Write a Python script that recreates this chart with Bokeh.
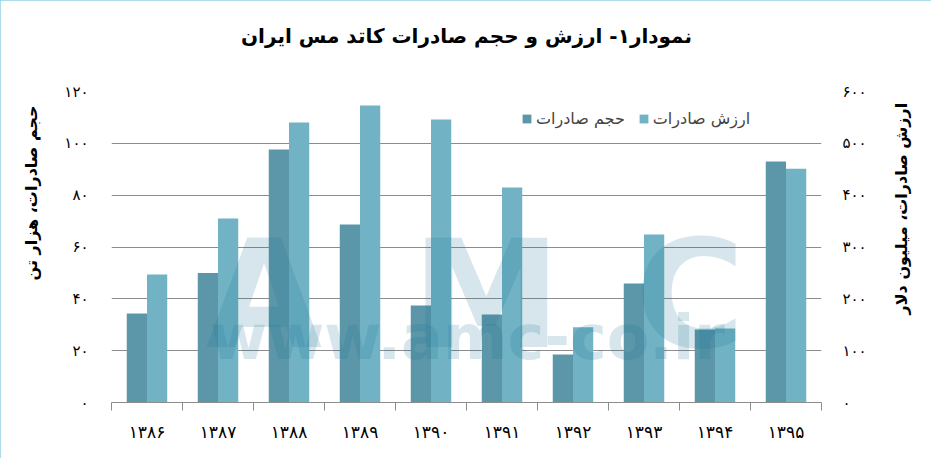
import math
from bokeh.plotting import figure
from bokeh.models import Range1d, LinearAxis, FixedTicker, Label, Legend, LegendItem, Title
from bokeh.embed import file_html
from bokeh.resources import INLINE

# ---- data ----
years = ["۱۳۸۶", "۱۳۸۷", "۱۳۸۸", "۱۳۸۹", "۱۳۹۰", "۱۳۹۱", "۱۳۹۲", "۱۳۹۳", "۱۳۹۴", "۱۳۹۵"]
export_volume = [34.3, 50.0, 97.6, 68.7, 37.4, 34.0, 18.5, 45.9, 28.2, 93.0]   # thousand tonnes (left axis)
export_value = [247, 355, 540, 573, 546, 415, 145, 324, 143, 451]             # million USD (right axis)
left_ticks = [0, 20, 40, 60, 80, 100, 120]
left_tick_labels = ["۰", "۲۰", "۴۰", "۶۰", "۸۰", "۱۰۰", "۱۲۰"]
right_ticks = [0, 100, 200, 300, 400, 500, 600]
right_tick_labels = ["۰", "۱۰۰", "۲۰۰", "۳۰۰", "۴۰۰", "۵۰۰", "۶۰۰"]
series_names = ["حجم صادرات", "ارزش صادرات"]
title_text = "نمودار۱- ارزش و حجم صادرات کاتد مس ایران"
left_title = "حجم صادرات، هزار تن"
right_title = "ارزش صادرات، میلیون دلار"

DARK = "#5b97a8"
LIGHT = "#71b2c4"
GRID = "#8c8c8c"
FONT = "DejaVu Sans"

n = len(years)
centers = [i + 0.5 for i in range(n)]
bounds = [float(i) for i in range(n + 1)]

p = figure(width=931, height=458, x_range=Range1d(0, n), y_range=Range1d(0, 120),
           output_backend="svg", toolbar_location=None,
           min_border_left=109, min_border_right=110, min_border_top=91, min_border_bottom=56)
p.extra_y_ranges = {"val": Range1d(0, 600)}
p.outline_line_color = None
p.styles = {"outline": "2px solid #92cfe0", "outline-offset": "-2px"}

# main title (outermost) with a thin spacer between it and the frame
p.title.text = title_text
p.title.align = "center"
p.title.text_font = FONT
p.title.text_font_style = "bold"
p.title.text_font_size = "20px"
p.title.text_color = "#000000"
p.title.standoff = 10
p.add_layout(Title(text=" ", text_font_size="1px", standoff=36), "above")

# bars
bw = 0.285
r1 = p.vbar(x=[c - bw / 2 for c in centers], top=export_volume, width=bw,
            fill_color=DARK, line_color=None)
r2 = p.vbar(x=[c + bw / 2 for c in centers], top=export_value, width=bw,
            fill_color=LIGHT, line_color=None, y_range_name="val")

# x axis
xa = p.xaxis[0]
xa.ticker = FixedTicker(ticks=centers, minor_ticks=bounds)
xa.major_label_overrides = {c: y for c, y in zip(centers, years)}
xa.major_tick_out = 0
xa.major_tick_in = 0
xa.minor_tick_out = 8
xa.minor_tick_in = 0
xa.minor_tick_line_color = GRID
xa.axis_line_color = GRID
xa.major_label_standoff = 11
xa.major_label_text_font_size = "17px"
xa.major_label_text_font = FONT
xa.major_label_text_color = "#000000"

# left axis
ya = p.yaxis[0]
ya.ticker = FixedTicker(ticks=left_ticks)
ya.major_label_overrides = {t: s for t, s in zip(left_ticks, left_tick_labels)}
ya.axis_line_color = None
ya.major_tick_out = 0
ya.major_tick_in = 0
ya.minor_tick_line_color = None
ya.major_label_standoff = 23
ya.major_label_text_font_size = "15px"
ya.major_label_text_font = FONT
ya.major_label_text_color = "#000000"

# right axis
ra = LinearAxis(y_range_name="val", ticker=FixedTicker(ticks=right_ticks))
ra.major_label_overrides = {t: s for t, s in zip(right_ticks, right_tick_labels)}
ra.axis_line_color = None
ra.major_tick_out = 0
ra.major_tick_in = 0
ra.minor_tick_line_color = None
ra.major_label_standoff = 21
ra.major_label_text_font_size = "15px"
ra.major_label_text_font = FONT
ra.major_label_text_color = "#000000"
p.add_layout(ra, "right")

# left axis title (outside the left axis, starting near the top of the frame)
p.add_layout(Title(text=left_title, align="right", vertical_align="middle", offset=14,
                   standoff=40, text_font=FONT, text_font_style="bold",
                   text_font_size="16px", text_color="#000000"), "left")

# right axis title (reads like the left one), anchored at the bottom of the axis
props = LinearAxis.properties()
ra.axis_label = "\u2003\u2003\u2003\u2003\u2003\u2002" + right_title
ra.axis_label_text_font = FONT
ra.axis_label_text_font_style = "bold"
ra.axis_label_text_font_size = "16px"
ra.axis_label_text_color = "#000000"
ra.axis_label_standoff = 32
if "axis_label_orientation" in props:
    ra.axis_label_orientation = math.pi / 2
if "axis_label_align" in props:
    ra.axis_label_align = "start"

p.xgrid.grid_line_color = None
p.ygrid.grid_line_color = GRID
p.ygrid.grid_line_width = 1

# watermark (semi-transparent overlay)
wm = dict(text_color="#1a7697", text_alpha=0.18, text_font=FONT, text_font_style="bold",
          text_align="center", text_baseline="alphabetic")
for ch, xx in zip("AMC", [2.15, 5.28, 8.15]):
    p.add_layout(Label(x=xx, y=41.3, text=ch, text_font_size="150px", **wm))
p.add_layout(Label(x=5.01, y=25.0, text="www.amc-co.ir", text_font_size="62px", **wm))

legend = Legend(items=[LegendItem(label=series_names[0], renderers=[r1]),
                       LegendItem(label=series_names[1], renderers=[r2])],
                orientation="horizontal", location=(410, 274), padding=0, margin=0,
                border_line_color=None, background_fill_alpha=0,
                glyph_width=11, glyph_height=11, label_standoff=4, spacing=13,
                label_text_font_size="16px", label_text_font=FONT)
p.add_layout(legend)

open("out.html", "w").write(file_html(p, INLINE))
